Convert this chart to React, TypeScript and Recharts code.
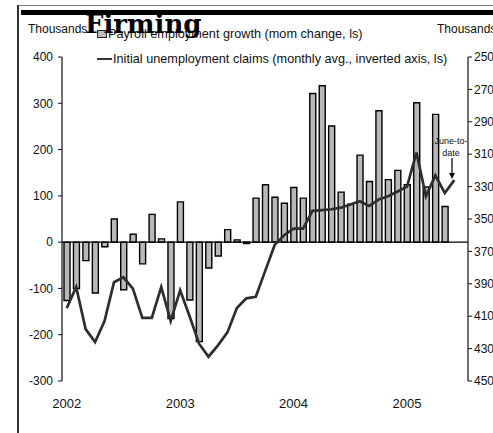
import React from 'react';
import {
  Bar,
  ComposedChart,
  Line,
  ReferenceLine,
  XAxis,
  YAxis,
} from 'recharts';

// monthly categories, Jan 2002 .. Jun 2005
const months = [
  'Jan 02', 'Feb 02', 'Mar 02', 'Apr 02', 'May 02', 'Jun 02', 'Jul 02', 'Aug 02', 'Sep 02', 'Oct 02', 'Nov 02', 'Dec 02',
  'Jan 03', 'Feb 03', 'Mar 03', 'Apr 03', 'May 03', 'Jun 03', 'Jul 03', 'Aug 03', 'Sep 03', 'Oct 03', 'Nov 03', 'Dec 03',
  'Jan 04', 'Feb 04', 'Mar 04', 'Apr 04', 'May 04', 'Jun 04', 'Jul 04', 'Aug 04', 'Sep 04', 'Oct 04', 'Nov 04', 'Dec 04',
  'Jan 05', 'Feb 05', 'Mar 05', 'Apr 05', 'May 05', 'Jun 05',
];

// payroll employment growth, mom change, thousands (no June bar yet)
const payroll = [
  -126, -100, -40, -110, -10, 50, -103, 17, -47, 60, 7, -165,
  87, -125, -215, -56, -30, 27, 5, -3, 95, 124, 97, 84,
  118, 95, 321, 338, 251, 108, 82, 188, 131, 284, 135, 155,
  124, 301, 119, 276, 77, null,
];

// initial unemployment claims, monthly avg., thousands (inverted axis)
const claims = [
  405, 392, 418, 426, 413, 389, 386, 393, 411, 411, 392, 413,
  394, 410, 427, 435, 428, 420, 405, 399, 398, 382, 366, 360,
  356, 356, 345, 344.5, 344, 343, 341, 339, 342, 338, 336, 333,
  330, 309, 336, 323, 334, 326,
];

const yearTicks = ['Jan 02', 'Jan 03', 'Jan 04', 'Jan 05'];
const yearLabels = ['2002', '2003', '2004', '2005'];
const leftTicks = [-300, -200, -100, 0, 100, 200, 300, 400];
const rightTicks = [250, 270, 290, 310, 330, 350, 370, 390, 410, 430, 450];

const payrollName = 'Payroll employment growth (mom change, ls)';
const claimsName = 'Initial unemployment claims (monthly avg., inverted axis, ls)';

const data = months.map((month, i) => ({
  month,
  payroll: payroll[i],
  claims: claims[i],
}));

const font = '"Liberation Sans", Arial, sans-serif';
const ink = '#111';

export default function App() {
  return (
    <div
      style={{
        position: 'absolute',
        left: 0,
        top: 0,
        width: 493,
        height: 433,
        background: '#fff',
        overflow: 'hidden',
        fontFamily: font,
        color: ink,
      }}
    >
      {/* page frame */}
      <div style={{ position: 'absolute', left: 17, top: 5, width: 476, height: 1, background: '#777' }} />
      <div style={{ position: 'absolute', left: 17, top: 5, width: 1.5, height: 428, background: '#333' }} />
      <div style={{ position: 'absolute', left: 21, top: 10, width: 472, height: 5, background: '#000' }} />

      <div style={{ position: 'absolute', left: 28, top: 22, fontSize: 12 }}>Thousands</div>
      <div style={{ position: 'absolute', left: 437, top: 22, fontSize: 12, whiteSpace: 'nowrap' }}>Thousands</div>

      <ComposedChart
        width={493}
        height={433}
        data={data}
        margin={{ top: 57, right: 0, bottom: 0, left: 0 }}
        barSize={6}
        style={{ position: 'absolute', left: 0, top: 0 }}
      >
        <XAxis
          dataKey="month"
          ticks={yearTicks}
          interval={0}
          tickFormatter={(v: string) => yearLabels[yearTicks.indexOf(v)]}
          axisLine={false}
          tickLine={false}
          tickMargin={12}
          height={52}
          padding={{ left: 0, right: 9 }}
          tick={{ fontSize: 13, fill: ink, fontFamily: font }}
        />
        <YAxis
          yAxisId="left"
          width={62}
          domain={[-300, 400]}
          ticks={leftTicks}
          interval={0}
          tickSize={4}
          tickMargin={5}
          axisLine={{ stroke: ink, strokeWidth: 1.2 }}
          tickLine={{ stroke: ink }}
          tick={{ fontSize: 12, fill: ink, fontFamily: font }}
        />
        <YAxis
          yAxisId="right"
          orientation="right"
          reversed
          width={25}
          domain={[250, 450]}
          ticks={rightTicks}
          interval={0}
          tickSize={4}
          tickMargin={2}
          axisLine={{ stroke: ink, strokeWidth: 1.2 }}
          tickLine={{ stroke: ink }}
          tick={{ fontSize: 12, fill: ink, fontFamily: font, textAnchor: 'start' }}
        />
        <Bar
          yAxisId="left"
          dataKey="payroll"
          name={payrollName}
          fill="#b8b8b8"
          stroke="#000"
          strokeWidth={1.4}
          isAnimationActive={false}
        />
        <ReferenceLine yAxisId="left" y={0} stroke="#000" strokeWidth={1.2} />
        <Line
          yAxisId="right"
          dataKey="claims"
          name={claimsName}
          type="linear"
          stroke="#2e2e2e"
          strokeWidth={2.7}
          dot={false}
          isAnimationActive={false}
        />
      </ComposedChart>

      {/* legend */}
      <div style={{ position: 'absolute', left: 97, top: 26, fontSize: 12.7, lineHeight: '14px', whiteSpace: 'nowrap' }}>
        <div style={{ display: 'flex', alignItems: 'center', height: 16 }}>
          <span style={{ display: 'inline-block', width: 8, height: 6, background: '#bbb', border: '1px solid #222', marginRight: 1 }} />
          <span>{payrollName}</span>
        </div>
        <div style={{ display: 'flex', alignItems: 'center', height: 16, marginTop: 9 }}>
          <span style={{ display: 'inline-block', width: 15, height: 2, background: '#333', marginRight: 1 }} />
          <span>{claimsName}</span>
        </div>
      </div>

      {/* annotation */}
      <div style={{ position: 'absolute', left: 434, top: 135, fontSize: 9, lineHeight: '12px', textAlign: 'center', width: 34 }}>
        June-to-
        <br />
        date
      </div>
      <svg style={{ position: 'absolute', left: 446, top: 157 }} width={12} height={26}>
        <line x1={6} y1={1} x2={6} y2={19} stroke="#111" strokeWidth={1.3} />
        <polygon points="3,16 9,16 6,22" fill="#111" />
      </svg>

      <div
        style={{
          position: 'absolute',
          left: 85,
          top: 9,
          fontFamily: '"DejaVu Serif", serif',
          fontWeight: 'bold',
          fontSize: 26,
          lineHeight: 'normal',
          color: '#000',
        }}
      >
        Firming
      </div>
    </div>
  );
}
